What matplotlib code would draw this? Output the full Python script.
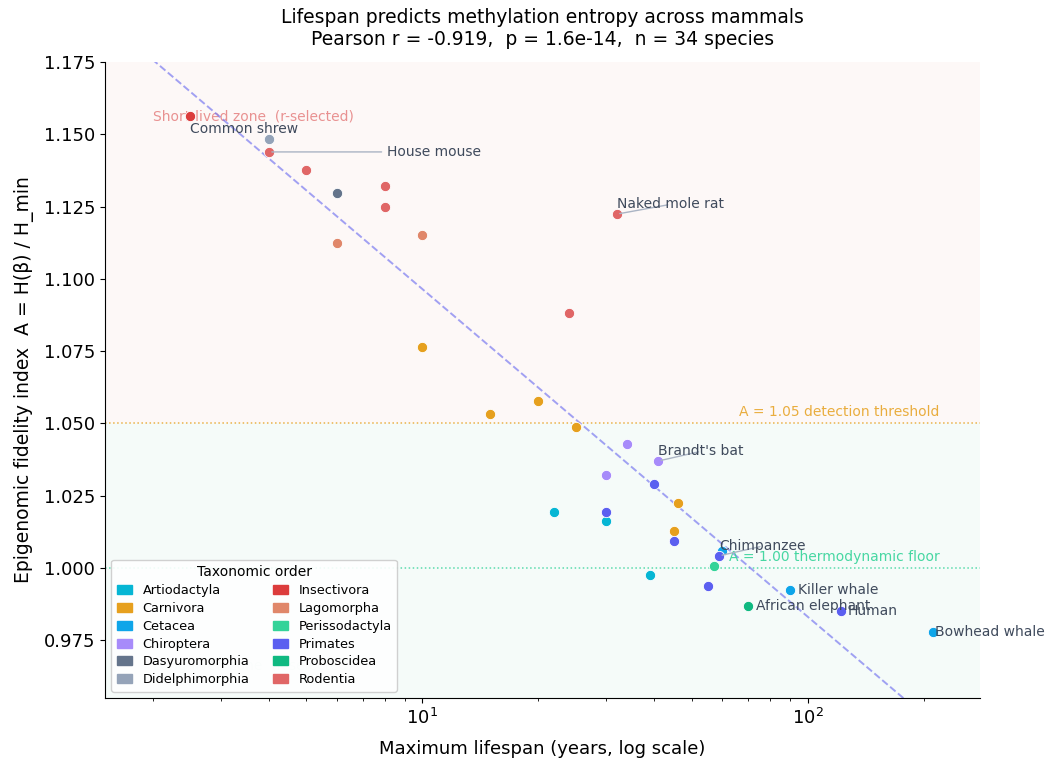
import numpy as np
import matplotlib
matplotlib.use("Agg")
import matplotlib.pyplot as plt
from matplotlib.patches import Patch

# data
orders = ['Artiodactyla', 'Carnivora', 'Cetacea', 'Chiroptera', 'Dasyuromorphia',
          'Didelphimorphia', 'Insectivora', 'Lagomorpha', 'Perissodactyla',
          'Primates', 'Proboscidea', 'Rodentia']
order_colors = ['#06b6d4', '#e6a01e', '#0ea5e9', '#a78bfa', '#64748b',
                '#94a3b8', '#dc3c3c', '#e0876a', '#34d399',
                '#5b5ff0', '#10b981', '#e06666']

species = ['Common shrew', 'Opossum', 'House mouse', 'Rat', 'Antechinus',
           'Hamster', 'Guinea pig', 'Rabbit', 'Hare', 'Naked mole rat', 'Squirrel',
           'Ferret', 'Fox', 'Cat', 'Dog', 'Bat sp. 1', "Brandt's bat", 'Bat sp. 2',
           'Macaque', 'Bear', 'Pig', 'Marmoset', 'Sheep', 'Lion', 'Baboon',
           'Chimpanzee', 'Dolphin', 'Horse', 'Cow', 'Gorilla', 'Killer whale',
           'African elephant', 'Human', 'Bowhead whale']
species_order = ['Insectivora', 'Didelphimorphia', 'Rodentia', 'Rodentia', 'Dasyuromorphia',
                 'Rodentia', 'Rodentia', 'Lagomorpha', 'Lagomorpha', 'Rodentia', 'Rodentia',
                 'Carnivora', 'Carnivora', 'Carnivora', 'Carnivora', 'Chiroptera', 'Chiroptera',
                 'Chiroptera', 'Primates', 'Carnivora', 'Artiodactyla', 'Primates', 'Artiodactyla',
                 'Carnivora', 'Primates', 'Primates', 'Cetacea', 'Perissodactyla', 'Artiodactyla',
                 'Primates', 'Cetacea', 'Proboscidea', 'Primates', 'Cetacea']
lifespan = [2.5, 4, 4, 5, 6, 8, 8, 6, 10, 32, 24,
            10, 15, 20, 25, 34, 41, 30,
            40, 46, 22, 30, 30, 45, 45,
            59, 60, 57, 39, 55, 90, 70, 122, 211]
fidelity = [1.1563, 1.1484, 1.1439, 1.1377, 1.1297, 1.1321, 1.1250, 1.1124, 1.1152, 1.1224, 1.0882,
            1.0765, 1.0533, 1.0578, 1.0488, 1.0429, 1.0370, 1.0322,
            1.0291, 1.0225, 1.0194, 1.0194, 1.0163, 1.0128, 1.0094,
            1.0042, 1.0059, 1.0007, 0.9976, 0.9938, 0.9924, 0.9869, 0.9852, 0.9779]

# labelled species: (name, text offset in points, with leader line)
labels = [('Common shrew', (0, -9), False),
          ('House mouse', (85, 0), True),
          ('Naked mole rat', (0, 7), True),
          ("Brandt's bat", (0, 7), True),
          ('Chimpanzee', (0, 7), True),
          ('Killer whale', (6, 0), False),
          ('African elephant', (6, 0), False),
          ('Human', (5, 0), False),
          ('Bowhead whale', (2, 0), False)]

x = np.array(lifespan)
y = np.array(fidelity)
cmap = dict(zip(orders, order_colors))

fig = plt.figure(figsize=(10.51, 7.62), dpi=100)
ax = fig.add_axes([0.0999, 0.084, 0.8325, 0.8346])
ax.set_xscale('log')
ax.set_xlim(1.5, 280)
ax.set_ylim(0.955, 1.175)

ax.axhspan(1.05, 1.175, color='#e8a090', alpha=0.07, lw=0, zorder=0)
ax.axhspan(0.955, 1.05, color='#7fd4b5', alpha=0.07, lw=0, zorder=0)
ax.axhline(1.05, color='#e6a01e', ls=':', lw=1.1, alpha=0.8, zorder=1)
ax.axhline(1.00, color='#34d399', ls=':', lw=1.1, alpha=0.8, zorder=1)
ax.text(220, 1.0515, 'A = 1.05 detection threshold', color='#e6a01e', alpha=0.85,
        fontsize=10, ha='right', va='bottom')
ax.text(220, 1.0015, 'A = 1.00 thermodynamic floor', color='#34d399', alpha=0.9,
        fontsize=10, ha='right', va='bottom')
ax.text(2.0, 1.1563, 'Short-lived zone  (r-selected)', color='#e06666', alpha=0.7,
        fontsize=10, va='center', zorder=2)
ax.text(2.0, 0.966, 'Long-lived zone  (K-selected)', color='#10b981', alpha=0.15,
        fontsize=10, va='center', zorder=2)

# log-linear fit
slope, icpt = np.polyfit(np.log10(x), y, 1)
xx = np.logspace(np.log10(1.5), np.log10(280), 200)
ax.plot(xx, icpt + slope * np.log10(xx), ls='--', color='#7b7bf0', alpha=0.7, lw=1.4, zorder=2)

for o in orders:
    m = np.array([s == o for s in species_order])
    ax.scatter(x[m], y[m], s=55, color=cmap[o], edgecolors='white', linewidths=0.6, zorder=3)

for name, off, line in labels:
    i = species.index(name)
    ap = dict(arrowstyle='-', color='#aab4c4', lw=1) if line else None
    ax.annotate(name, (x[i], y[i]), xytext=off, textcoords='offset points',
                fontsize=10, color='#3f4a5c', va='center', ha='left',
                arrowprops=ap, zorder=4)

ax.spines['top'].set_visible(False)
ax.spines['right'].set_visible(False)
ax.set_yticks(np.arange(0.975, 1.176, 0.025))
ax.set_yticklabels([f'{v:.3f}' for v in np.arange(0.975, 1.176, 0.025)])
ax.tick_params(labelsize=13)
ax.set_xlabel('Maximum lifespan (years, log scale)', fontsize=13, labelpad=9)
ax.set_ylabel('Epigenomic fidelity index  A = H(β) / H_min', fontsize=13.5, labelpad=7)
ax.text(0.5, 1.052, 'Lifespan predicts methylation entropy across mammals\n'
        'Pearson r = -0.919,  p = 1.6e-14,  n = 34 species', fontsize=13.5,
        ha='center', va='center', multialignment='center', transform=ax.transAxes)

handles = [Patch(color=c, label=o) for o, c in zip(orders, order_colors)]
ax.legend(handles=handles, title='Taxonomic order', ncol=2, loc='lower left',
          fontsize=9.3, title_fontsize=10, framealpha=0.9, handlelength=1.2,
          columnspacing=1.8, labelspacing=0.38)

fig.savefig('out.png', dpi=100)
